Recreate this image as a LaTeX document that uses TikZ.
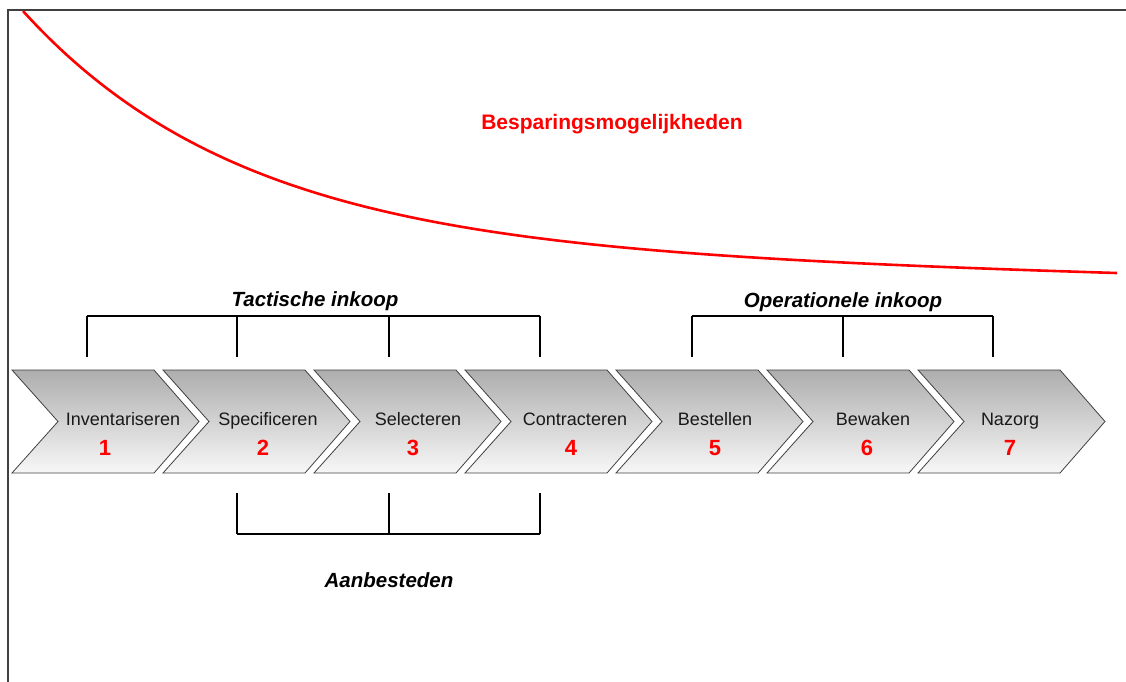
\documentclass[tikz,border=0pt]{standalone}
\usepackage{fontspec}
\setmainfont{Liberation Sans}
\begin{document}
\begin{tikzpicture}[x=1pt,y=-1pt,
  chev/.style={draw=black!75, line width=0.8pt, top color=black!32, bottom color=black!3},
  lbl/.style={font=\fontsize{18}{20}\selectfont, text=black!90, anchor=base, inner sep=0pt},
  num/.style={font=\fontsize{22}{24}\selectfont\bfseries, text=red, anchor=base, inner sep=0pt},
  grp/.style={font=\fontsize{20.5}{23}\selectfont\bfseries\itshape, anchor=base, inner sep=0pt},
  brk/.style={draw=black, line width=1.3pt},
  frame/.style={draw=black!75, line width=1.5pt},
  curve/.style={draw=red, line width=2.6pt}]
\useasboundingbox (0,0) rectangle (1126,682);
% frame
\draw[frame] (1126,10) -- (8,10) -- (8,682);
% savings curve
\draw[curve] plot[domain=23:1117, samples=150, smooth] (\x, {248.3+0.0236*\x - 237.8*exp(-(\x-23)/220)});
\node[font=\fontsize{21}{24}\selectfont\bfseries, text=red, anchor=base, inner sep=0pt] (title) at (612,129) {Besparingsmogelijkheden};
% chevrons
\foreach \i/\lab/\lx/\nx in {1/Inventariseren/123/105, 2/Specificeren/268/263, 3/Selecteren/418/413, 4/Contracteren/575/571, 5/Bestellen/715/715, 6/Bewaken/873/867, 7/Nazorg/1010/1010} {
  \pgfmathsetmacro\xo{12+151*(\i-1)}
  \path[chev] (\xo,370) -- (\xo+142,370) -- (\xo+187,421.5) -- (\xo+142,473) -- (\xo,473) -- (\xo+46,421.5) -- cycle;
  \node[lbl] (lab\i) at (\lx,425) {\lab};
  \node[num] (num\i) at (\nx,455) {\i};
}
% bracket coordinates
\coordinate (ta) at (87,316);
\coordinate (tb) at (237,316);
\coordinate (tc) at (389,316);
\coordinate (td) at (540,316);
\coordinate (oa) at (692,316);
\coordinate (ob) at (843,316);
\coordinate (oc) at (993,316);
\coordinate (aa) at (237,534);
\coordinate (ab) at (389,534);
\coordinate (ac) at (540,534);
% Tactische inkoop
\node[grp] (tact) at (315,306) {Tactische inkoop};
\draw[brk] (ta) -- (td);
\foreach \c in {ta,tb,tc,td} \draw[brk] (\c) -- ++(0,41);
% Operationele inkoop
\node[grp] (oper) at (843,307) {Operationele inkoop};
\draw[brk] (oa) -- (oc);
\foreach \c in {oa,ob,oc} \draw[brk] (\c) -- ++(0,41);
% Aanbesteden
\draw[brk] (aa) -- (ac);
\foreach \c in {aa,ab,ac} \draw[brk] (\c) -- ++(0,-41);
\node[grp] (aanb) at (389,587) {Aanbesteden};
\end{tikzpicture}
\end{document}
